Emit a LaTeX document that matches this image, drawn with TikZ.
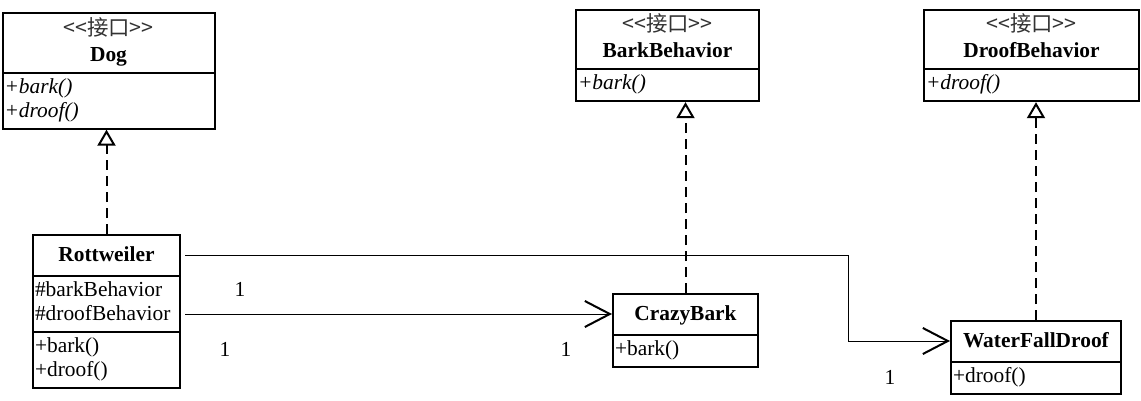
\documentclass[tikz,border=0pt]{standalone}
\usepackage{fontspec}
\setmainfont{Liberation Serif}
\newfontfamily\cjk{Noto Sans CJK SC}
\usetikzlibrary{calc,shapes.multipart,arrows.meta,positioning}
\setlength{\parindent}{0pt}
\newcommand{\stereo}{{\cjk\color{black!80}<\kern0pt<接口>\kern0pt>}}
\newcommand{\hdstrut}{\rule[-5.5pt]{0pt}{16.5pt}}
\newcommand{\ctr}[1]{\hbox to\hsize{\hfil#1\hfil}}
\tikzset{
myClass/.style={
	rectangle split, rectangle split parts=2, draw, line width=1pt,
	inner xsep=1pt, inner ysep=1.5pt, align=left, anchor=north west,
	font=\fontsize{10.7}{12}\selectfont
}
, myClass3/.style={myClass, rectangle split parts=3}
% links
, myReal/.style={-{Triangle[open,length=8pt,width=9pt,line width=1pt]},
	line width=1pt, dash pattern=on 5pt off 3pt}
, myAssoc/.style={-{Straight Barb[length=12.5pt,width=13pt,line width=1pt]},
	line width=0.5pt}
, myMult/.style={font=\fontsize{10.7}{12}\selectfont, inner sep=0pt}
}

\begin{document}
\begin{tikzpicture}[x=0.5pt,y=-0.5pt]
	\useasboundingbox (0,0) rectangle (1141,401);
	% interfaces
	\node[myClass, text width=104pt] (Dog) at (1.5,12.5)
		{\ctr{\stereo}\par\vskip1pt\ctr{\textbf{Dog}\strut}
		\nodepart{two}\strut\textit{+bark()}\\\textit{+droof()}\strut};
	\node[myClass, text width=89.5pt] (BarkB) at (575,9)
		{\ctr{\stereo}\par\vskip1pt\ctr{\textbf{BarkBehavior}\strut}
		\nodepart{two}\strut\textit{+bark()}};
	\node[myClass, text width=105.5pt] (DroofB) at (923,9)
		{\ctr{\stereo}\par\vskip1pt\ctr{\textbf{DroofBehavior}\strut}
		\nodepart{two}\strut\textit{+droof()}};
	% classes
	\node[myClass3, text width=71.5pt] (Rott) at (32,234)
		{\ctr{\hdstrut\textbf{Rottweiler}}
		\nodepart{two}\strut\#barkBehavior\\\#droofBehavior\strut
		\nodepart{three}\strut+bark()\\+droof()\strut};
	\node[myClass, text width=70.5pt] (Crazy) at (612,293)
		{\ctr{\hdstrut\textbf{CrazyBark}}
		\nodepart{two}\strut+bark()};
	\node[myClass, text width=83pt] (WaterFall) at (950,320)
		{\ctr{\hdstrut\textbf{WaterFallDroof}}
		\nodepart{two}\strut+droof()};
	% multiplicities
	\node[myMult] (M1) at (240,289) {1};
	\node[myMult] (M2) at (225,349) {1};
	\node[myMult] (M3) at (566,349) {1};
	\node[myMult] (M4) at (890,377) {1};

	% realization
	\draw [myReal] (Rott.north) -- (Rott.north |- Dog.south);
	\draw [myReal] (Crazy.north) -- (Crazy.north |- BarkB.south);
	\draw [myReal] (WaterFall.north) -- (WaterFall.north |- DroofB.south);

	% association
	\coordinate (RottHead) at ($(Rott.north east)!0.5!(Rott.text split east)$);
	\coordinate (CrazyHead) at ($(Crazy.north west)!0.5!(Crazy.text split west)$);
	\coordinate (WaterHead) at ($(WaterFall.north west)!0.5!(WaterFall.text split west)$);
	\coordinate (Bend) at ($(WaterHead)+(-102,0)$);
	\draw [myAssoc] ($(RottHead)+(4,0)$) -| (Bend) -- (WaterHead);
	\draw [myAssoc] ($(Rott.east |- CrazyHead)+(4,0)$) -- (CrazyHead);
\end{tikzpicture}
\end{document}
